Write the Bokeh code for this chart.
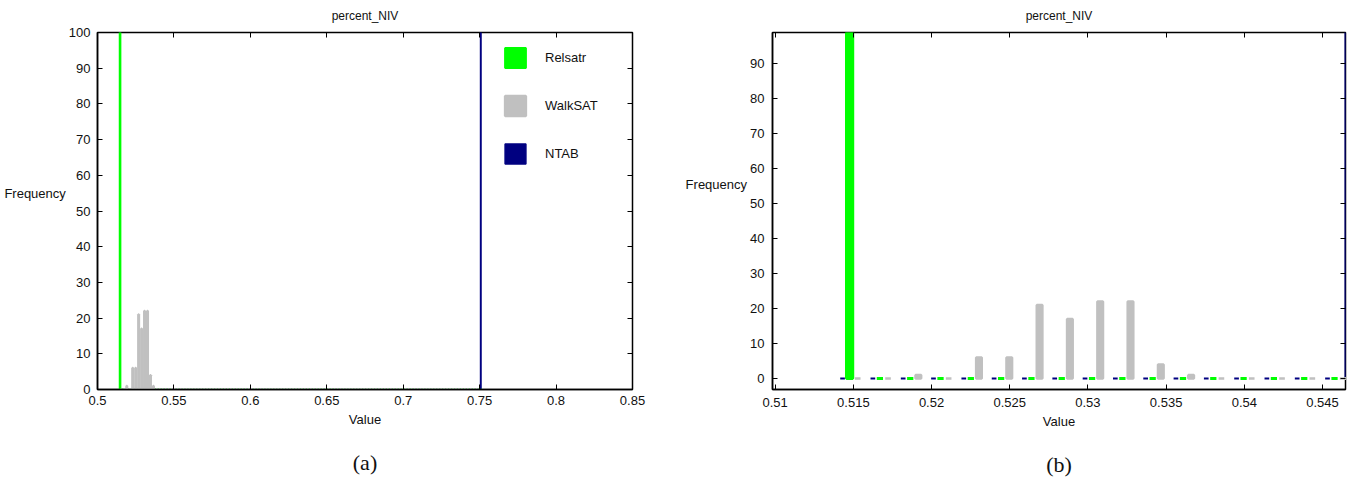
from bokeh.plotting import figure
from bokeh.models import (Range1d, FixedTicker, LinearAxis, Legend, LegendItem, Title,
                          ColumnDataSource, CustomJSTickFormatter)
from bokeh.layouts import row
from bokeh.transform import dodge
from bokeh.embed import file_html
from bokeh.resources import INLINE

# ---------------- data ----------------
title_text = "percent_NIV"
x_label = "Value"
y_label = "Frequency"
captions = ["(a)", "(b)"]
series_names = ["Relsatr", "WalkSAT", "NTAB"]
series_colors = ["#00FF00", "#C0C0C0", "#000080"]

first_bin = 0.51476
bin_width = 0.001938
relsatr = [100] + [0] * 122
walksat = [0, 0, 1, 0, 6, 6, 21, 17, 22, 22, 4, 1] + [0] * 111
ntab = [0] * 122 + [100]

a_xticks = [0.5, 0.55, 0.6, 0.65, 0.7, 0.75, 0.8, 0.85]
a_yticks = [0, 10, 20, 30, 40, 50, 60, 70, 80, 90, 100]
b_xticks = [0.51, 0.515, 0.52, 0.525, 0.53, 0.535, 0.54, 0.545]
b_yticks = [0, 10, 20, 30, 40, 50, 60, 70, 80, 90]

centers = [first_bin + i * bin_width for i in range(len(walksat))]
src = ColumnDataSource(dict(x=centers, relsatr=relsatr, walksat=walksat, ntab=ntab))

FONT = "Liberation Sans"
fmt = CustomJSTickFormatter(code="return tick.toString();")
blank = CustomJSTickFormatter(code="return '';")


def base_fig(width, height, bl, br, bt, bb, xr, yr, xt, yt, ylab, xstand, ystand):
    p = figure(width=width, height=height, output_backend="svg", toolbar_location=None,
               title=None, x_range=Range1d(*xr), y_range=Range1d(*yr),
               min_border_left=bl, min_border_right=br, min_border_top=bt, min_border_bottom=bb)
    p.grid.visible = False
    p.outline_line_color = "black"
    p.outline_line_width = 1.5
    p.outline_line_alpha = 1
    p.background_fill_color = "white"
    p.border_fill_color = "white"
    for ax, ticks in ((p.xaxis[0], xt), (p.yaxis[0], yt)):
        ax.ticker = FixedTicker(ticks=ticks)
        ax.formatter = fmt
        ax.major_tick_in = 5
        ax.major_tick_out = 0
        ax.minor_tick_line_color = None
        ax.minor_tick_out = 0
        ax.axis_line_width = 1.5
        ax.major_tick_line_width = 1
        ax.major_label_text_font = FONT
        ax.major_label_text_font_size = "13px"
        ax.major_label_text_color = "#111111"
        ax.axis_label_standoff = 0
        ax.axis_label_text_font = FONT
        ax.axis_label_text_font_size = "13px"
        ax.axis_label_text_font_style = "normal"
        ax.axis_label_text_color = "#111111"
    p.xaxis[0].major_label_standoff = xstand
    p.yaxis[0].major_label_standoff = ystand
    p.xaxis[0].axis_label = x_label
    p.xaxis[0].axis_label_standoff = 4
    ya = p.yaxis[0]
    ya.axis_label = ylab
    ya.axis_label_orientation = "horizontal"
    for side, ticks in (("above", xt), ("right", yt)):
        ax = LinearAxis(ticker=FixedTicker(ticks=ticks), formatter=blank,
                        major_tick_in=5, major_tick_out=0,
                        minor_tick_out=0, minor_tick_line_color=None, axis_line_color=None,
                        major_label_text_font_size="1px", major_label_standoff=0)
        p.add_layout(ax, side)
    return p


def add_title(p, text, side, offset, standoff, valign, size="13px", font=FONT):
    p.add_layout(Title(text=text, align="center", offset=offset, standoff=standoff,
                       vertical_align=valign, text_font=font, text_font_size=size,
                       text_font_style="normal", text_color="#111111"), side)


def add_bars(p, lw):
    specs = [("ntab", -0.00045, 0.0003, series_colors[2], lw[2]),
             ("relsatr", 0.0, 0.0004, series_colors[0], lw[0]),
             ("walksat", 0.00052, 0.00036, series_colors[1], lw[1])]
    out = {}
    for col, off, w, c, l in specs:
        out[col] = p.vbar(x=dodge("x", off), top=col, bottom=0, width=w, source=src,
                          fill_color=c, line_color=c, line_width=l)
    return out


# ---------------- panel (a) ----------------
pa = base_fig(680, 494, 97, 48, 32, 102, (0.5, 0.85), (0, 100), a_xticks, a_yticks,
              y_label + "\n \n ", 6, 7)
ra = add_bars(pa, (2, 2.5, 1.5))
add_title(pa, title_text, "above", -22.5, 16, "top", size="12px")
add_title(pa, captions[0], "below", -12, 36, "bottom", size="22px", font="Liberation Serif")

legend = Legend(items=[LegendItem(label=series_names[0], renderers=[ra["relsatr"]]),
                       LegendItem(label=series_names[1], renderers=[ra["walksat"]]),
                       LegendItem(label=series_names[2], renderers=[ra["ntab"]])],
                location=(405, 223), glyph_width=26, glyph_height=25, spacing=23,
                label_standoff=17, padding=0, margin=0, border_line_alpha=0,
                background_fill_alpha=0, label_text_font=FONT, label_text_font_size="13px",
                label_text_color="#111111")
pa.add_layout(legend)

# ---------------- panel (b) ----------------
pb = base_fig(679, 494, 92, 14, 32, 105, (0.50983, 0.54647), (-3.14, 98.9), b_xticks, b_yticks,
              y_label + "\n \n \n ", 8, 8)
add_bars(pb, (3, 2.5, 2))
add_title(pb, title_text, "above", 26.6, 16, "top", size="12px")
add_title(pb, captions[1], "below", -22, 36, "bottom", size="22px", font="Liberation Serif")

layout = row(pa, pb)
open("out.html", "w").write(file_html(layout, INLINE))
